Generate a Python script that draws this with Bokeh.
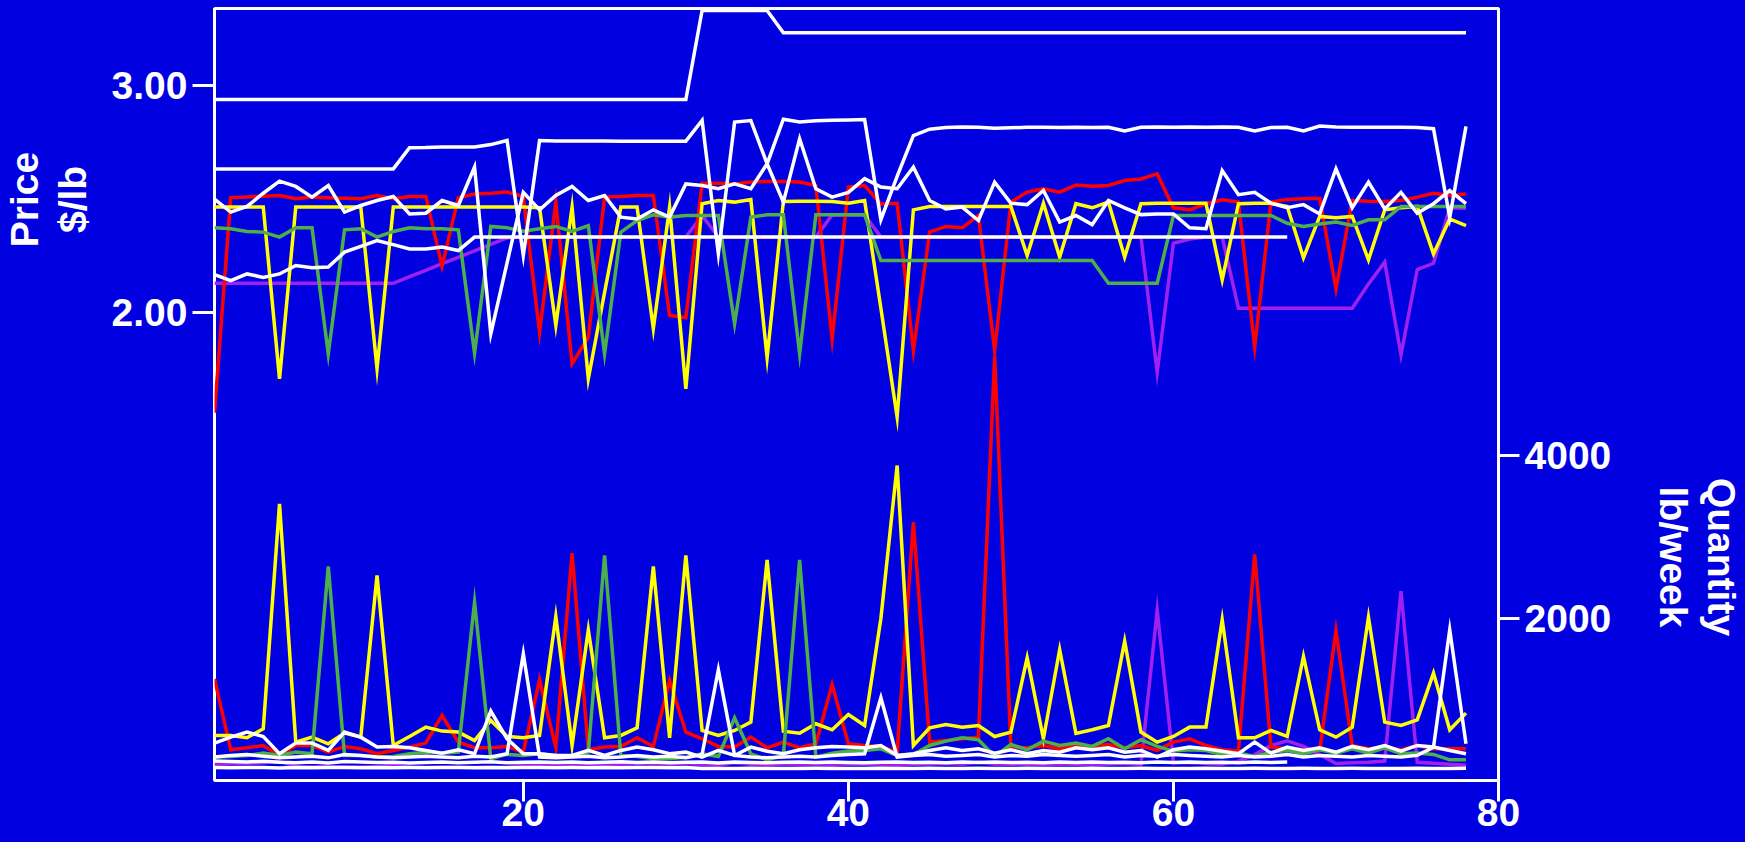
import math
from bokeh.plotting import figure
from bokeh.models import Range1d, LinearAxis, FixedTicker, NumeralTickFormatter, GlobalInlineStyleSheet
from bokeh.embed import file_html
from bokeh.resources import INLINE

NaN = float("nan")
week = list(range(1, 79))

x_ticks = [20, 40, 60, 80]
price_ticks = [2.0, 3.0]
qty_ticks = [2000, 4000]
price_title = ["Price", "$/lb"]
qty_title = ["Quantity", "lb/week"]

red_price = [1.56, 2.507, 2.51, 2.513, 2.516, 2.502, 2.509, 2.506, 2.504, 2.502,
             2.516, 2.502, 2.512, 2.512, 2.205, 2.506, 2.523, 2.526, 2.531, 2.512,
             1.914, 2.486, 1.776, 1.893, 2.509, 2.512, 2.516, 2.516, 1.988, 1.978,
             2.57, 2.57, 2.567, 2.575, 2.578, 2.578, 2.575, 2.56, 1.885, 2.553,
             2.56, 2.479, 2.482, 1.834, 2.355, 2.38, 2.374, 2.428, 1.834, 2.487,
             2.531, 2.546, 2.531, 2.562, 2.557, 2.56, 2.582, 2.589, 2.611, 2.462,
             2.453, 2.48, 2.497, 2.487, 1.849, 2.487, 2.499, 2.502, 2.504, 2.105,
             2.494, 2.491, 2.49, 2.494, 2.509, 2.526, 2.516, 2.523]
yellow_price = [2.465, 2.465, 2.465, 2.465, 1.71, 2.465, 2.465, 2.465, 2.465, 2.465,
                1.754, 2.465, 2.465, 2.465, 2.465, 2.465, 2.465, 2.465, 2.465, 2.465,
                2.462, 1.944, 2.465, 1.71, 2.09, 2.465, 2.465, 1.93, 2.465, 1.665,
                2.48, 2.494, 2.487, 2.498, 1.802, 2.49, 2.491, 2.491, 2.49, 2.482,
                2.494, 2.02, 1.541, 2.453, 2.468, 2.468, 2.468, 2.468, 2.468, 2.468,
                2.252, 2.482, 2.245, 2.48, 2.462, 2.487, 2.245, 2.48, 2.482, 2.482,
                2.482, 2.482, 2.145, 2.48, 2.482, 2.482, 2.468, 2.242, 2.424, 2.418,
                2.424, 2.233, 2.453, 2.462, 2.468, 2.259, 2.413, 2.384]
green_price = [2.374, 2.37, 2.358, 2.355, 2.333, 2.374, 2.374, 1.819, 2.365, 2.37,
               2.333, 2.358, 2.374, 2.37, 2.37, 2.365, 1.822, 2.38, 2.374, 2.359,
               2.37, 2.38, 2.358, 2.384, 1.819, 2.355, 2.406, 2.431, 2.421, 2.428,
               2.428, 2.428, 1.952, 2.421, 2.431, 2.431, 1.819, 2.431, 2.431, 2.431,
               2.431, 2.23, 2.23, 2.23, 2.23, 2.23, 2.23, 2.23, 2.23, 2.23,
               2.23, 2.23, 2.23, 2.23, 2.23, 2.13, 2.13, 2.13, 2.13, 2.428,
               2.428, 2.428, 2.428, 2.428, 2.428, 2.428, 2.394, 2.38, 2.391, 2.399,
               2.384, 2.409, 2.409, 2.468, 2.468, 2.468, 2.468, 2.468]
purple_price = ([2.13] * 12 + [2.159, 2.187, 2.216, 2.244, 2.273, 2.301, 2.33] + [2.333] * 11
                + [2.428] + [2.333] * 7 + [2.43, 2.43, 2.43] + [2.333] * 17
                + [1.739, 2.306, 2.325, 2.333, 2.333] + [2.02] * 8
                + [2.127, 2.223, 1.815, 2.19, 2.218, 2.462, 2.46])
white1_price = [2.938] * 30 + [3.33] * 5 + [3.232] * 43
white2_price = ([2.633] * 12 +
                [2.726, 2.727, 2.73, 2.73, 2.73, 2.74, 2.758, 2.252,
                 2.758, 2.756, 2.756, 2.756, 2.756, 2.755, 2.755, 2.755, 2.755, 2.755,
                 2.846, 2.26, 2.839, 2.846, 2.655, 2.852, 2.84, 2.845, 2.847, 2.848,
                 2.85, 2.41, 2.60, 2.78, 2.808, 2.815, 2.818, 2.816, 2.812, 2.814,
                 2.816, 2.816, 2.815, 2.816, 2.815, 2.816, 2.80, 2.816, 2.818, 2.816,
                 2.817, 2.816, 2.818, 2.816, 2.80, 2.815, 2.816, 2.80, 2.822, 2.817,
                 2.816, 2.816, 2.816, 2.816, 2.815, 2.81, 2.42, 2.82])
white3_price = [2.5, 2.443, 2.468, 2.526, 2.579, 2.556, 2.509, 2.56, 2.443, 2.472,
                2.494, 2.512, 2.435, 2.438, 2.494, 2.472, 2.641, 1.907, 2.22, 2.53,
                2.453, 2.516, 2.556, 2.494, 2.516, 2.421, 2.413, 2.453, 2.421, 2.567,
                2.56, 2.546, 2.567, 2.546, 2.656, 2.487, 2.766, 2.546, 2.509, 2.53,
                2.59, 2.553, 2.546, 2.641, 2.494, 2.457, 2.465, 2.406, 2.575, 2.482,
                2.476, 2.538, 2.399, 2.428, 2.388, 2.494, 2.462, 2.432, 2.435, 2.435,
                2.374, 2.37, 2.626, 2.52, 2.53, 2.482, 2.462, 2.476, 2.435, 2.633,
                2.462, 2.575, 2.457, 2.53, 2.438, 2.48, 2.538, 2.48]
white4_price = ([2.168, 2.142, 2.171, 2.156, 2.171, 2.208, 2.198, 2.201, 2.267, 2.292,
                 2.318, 2.3, 2.281, 2.281, 2.289, 2.274] + [2.333] * 51 + [NaN] * 11)

red_qty = [1260, 389, 413, 442, 319, 442, 442, 360, 430, 401,
           340, 381, 422, 471, 810, 483, 413, 413, 430, 360,
           1248, 413, 2802, 389, 422, 430, 536, 430, 1240, 606,
           524, 430, 422, 544, 413, 483, 413, 462, 1190, 462,
           442, 430, 360, 3182, 483, 503, 524, 544, 5220, 422,
           413, 442, 401, 442, 430, 454, 413, 442, 381, 483,
           524, 442, 389, 373, 2786, 422, 401, 389, 381, 1853,
           442, 401, 413, 389, 442, 401, 401, 401]
yellow_qty = [565, 565, 536, 647, 3407, 483, 544, 462, 593, 544,
              2528, 442, 552, 667, 618, 606, 503, 749, 552, 536,
              565, 2025, 442, 1861, 536, 565, 659, 2638, 536, 2773,
              626, 565, 626, 728, 2720, 618, 593, 708, 634, 822,
              687, 2000, 3877, 442, 659, 700, 667, 687, 552, 606,
              1518, 524, 1616, 590, 634, 687, 1722, 606, 483, 552,
              667, 667, 1984, 536, 536, 626, 552, 1534, 634, 544,
              667, 2017, 728, 687, 757, 1330, 634, 839]
green_qty = [299, 307, 319, 348, 319, 360, 340, 2638, 319, 319,
             299, 307, 340, 360, 348, 360, 2201, 278, 332, 319,
             340, 319, 307, 360, 2773, 319, 307, 278, 278, 299,
             340, 307, 781, 340, 266, 319, 2720, 299, 348, 373,
             381, 401, 319, 332, 442, 495, 536, 512, 307, 454,
             389, 495, 442, 471, 430, 524, 401, 512, 430, 373,
             389, 381, 332, 348, 307, 360, 381, 340, 389, 348,
             401, 348, 413, 340, 348, 332, 266, 266]
purple_qty = [210, 215, 220, 230, 250, 180, 180, 180, 180, 180,
              180, 200, 175, 175, 175, 175, 175, 175, 175, 200,
              210, 205, 215, 200, 210, 205, 220, 215, 210, 220,
              205, 200, 230, 210, 200, 215, 205, 210, 200, 215,
              210, 205, 200, 210, 215, 220, 210, 240, 210, 215,
              210, 205, 210, 215, 205, 215, 220, 210, 2100, 230,
              230, 220, 210, 250, 330, 440, 500, 430, 330, 220,
              230, 235, 250, 2336, 235, 225, 210, 200]
white1_qty = [170, 168, 172, 170, 166, 170, 168, 172, 170, 168,
              171, 169, 170, 167, 172, 170, 168, 171, 169, 170,
              172, 168, 170, 169, 171, 167, 170, 172, 168, 170,
              160, 158, 160, 162, 158, 160, 159, 161, 160, 158,
              160, 162, 159, 160, 161, 158, 160, 162, 160, 159,
              161, 160, 158, 160, 162, 159, 160, 161, 160, 158,
              160, 162, 159, 160, 161, 158, 160, 162, 160, 159,
              161, 160, 158, 160, 162, 159, 160, 161]
white2_qty = [300, 320, 330, 310, 290, 300, 310, 290, 330, 320,
              300, 290, 300, 310, 300, 290, 310, 300, 340, 1567,
              300, 290, 300, 310, 290, 300, 320, 300, 310, 290,
              330, 1371, 320, 300, 290, 300, 310, 300, 320, 330,
              340, 1027, 300, 320, 330, 310, 320, 330, 300, 320,
              310, 330, 320, 310, 320, 330, 300, 320, 310, 330,
              320, 310, 300, 320, 300, 310, 330, 300, 320, 310,
              300, 320, 310, 300, 320, 420, 1861, 463]
white3_qty = [471, 544, 606, 552, 340, 471, 471, 381, 606, 544,
              422, 430, 413, 381, 348, 389, 340, 863, 524, 340,
              340, 319, 319, 381, 319, 381, 422, 389, 340, 360,
              299, 381, 319, 422, 372, 340, 389, 413, 430, 422,
              413, 442, 319, 340, 381, 413, 381, 401, 348, 389,
              340, 381, 360, 413, 389, 413, 360, 381, 299, 389,
              422, 401, 372, 340, 483, 348, 422, 381, 413, 360,
              430, 389, 442, 372, 442, 422, 381, 340]
white4_qty = ([250, 245, 240, 248, 236, 230, 238, 226, 244, 240,
               232, 236, 228, 234, 240, 230, 236, 242, 230, 236,
               240, 232, 238, 230, 236, 242, 234, 238, 230, 236,
               240, 226, 238, 234, 230, 236, 240, 232, 238, 234,
               230, 236, 240, 232, 236, 230, 238, 234, 240, 232,
               236, 230, 238, 234, 240, 232, 236, 230, 238, 234,
               240, 232, 236, 230, 238, 234, 240] + [NaN] * 11)

BG = "#0000E0"
FONT = "Liberation Sans"
FS = "39px"
RED, YELLOW, GREEN, PURPLE, WHITE = "#FF0000", "#FFFF00", "#4DAF4A", "#A020F0", "#FFFFFF"
LW = 3.5
NB = "\u00a0"

p = figure(width=1745, height=842, output_backend="svg", toolbar_location=None,
           x_range=Range1d(1, 80), y_range=Range1d(-0.0576, 3.3388),
           min_border_left=211, min_border_right=245, min_border_top=8, min_border_bottom=62,
           background_fill_color=BG, border_fill_color=BG,
           outline_line_color="white", outline_line_width=3)
p.extra_y_ranges = {"q": Range1d(12, 9485)}
p.grid.visible = False
p.stylesheets = [GlobalInlineStyleSheet(
    css="html, body { margin: 0 !important; padding: 0 !important; overflow: hidden; "
        "font-size: 0; line-height: 0; background-color: %s !important; }" % BG)]

def style_axis(ax):
    ax.axis_line_color = None
    ax.major_tick_line_color = "white"
    ax.major_tick_line_width = 3
    ax.major_tick_in = 0
    ax.major_tick_out = 21
    ax.minor_tick_line_color = None
    ax.major_label_text_color = "white"
    ax.major_label_text_font = FONT
    ax.major_label_text_font_style = "bold"
    ax.major_label_text_font_size = FS
    ax.axis_label_text_color = "white"
    ax.axis_label_text_font = FONT
    ax.axis_label_text_font_style = "bold"
    ax.axis_label_text_font_size = FS
    ax.axis_label_text_line_height = 1.1

xa = p.xaxis[0]
style_axis(xa)
xa.ticker = FixedTicker(ticks=x_ticks)
xa.major_label_standoff = -3

ya = p.yaxis[0]
style_axis(ya)
ya.ticker = FixedTicker(ticks=price_ticks)
ya.formatter = NumeralTickFormatter(format="0.00")
ya.major_tick_out = 22
ya.major_label_standoff = 5
# leading no-break spaces move the centred title up toward the price band
ya.axis_label = "\n".join(NB * 36 + s for s in price_title)
ya.axis_label_standoff = 15

qa = LinearAxis(y_range_name="q", ticker=FixedTicker(ticks=qty_ticks))
style_axis(qa)
qa.major_label_standoff = 5
qa.axis_label = "\n".join(NB * 30 + s for s in qty_title)
qa.axis_label_standoff = 38
p.add_layout(qa, "right")

colored = [(purple_price, purple_qty, PURPLE), (red_price, red_qty, RED),
           (yellow_price, yellow_qty, YELLOW), (green_price, green_qty, GREEN)]
whites = [(white1_price, white1_qty), (white2_price, white2_qty),
          (white3_price, white3_qty), (white4_price, white4_qty)]

for pr, qt, col in colored:
    p.line(week, pr, line_color=col, line_width=LW, line_join="miter")
    p.line(week, qt, line_color=col, line_width=LW, line_join="miter", y_range_name="q")
for pr, qt in whites:
    p.line(week, pr, line_color=WHITE, line_width=LW, line_join="miter")
    p.line(week, qt, line_color=WHITE, line_width=LW, line_join="miter", y_range_name="q")

open("out.html", "w").write(file_html(p, INLINE))
